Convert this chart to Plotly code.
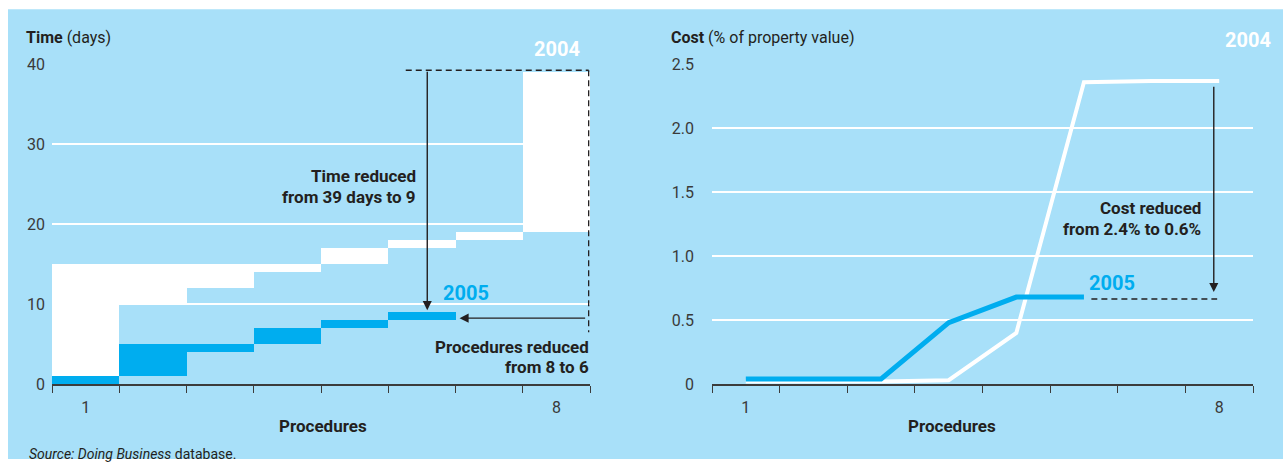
import plotly.graph_objects as go

# ---------------- data ----------------
procedures_2004 = [1, 2, 3, 4, 5, 6, 7, 8]
procedures_2005 = [1, 2, 3, 4, 5, 6]
time_2004_start = [0, 10, 12, 14, 15, 17, 18, 19]
time_2004_end = [15, 15, 15, 15, 17, 18, 19, 39]
time_2005_start = [0, 1, 4, 5, 7, 8]
time_2005_end = [1, 5, 5, 7, 8, 9]
cost_2004 = [0.02, 0.02, 0.02, 0.03, 0.40, 2.36, 2.37, 2.37]
cost_2005 = [0.04, 0.04, 0.04, 0.48, 0.68, 0.68]
time_ticks = [0, 10, 20, 30, 40]
cost_ticks = [0, 0.5, 1.0, 1.5, 2.0, 2.5]
cost_tick_text = ["0", "0.5", "1.0", "1.5", "2.0", "2.5"]
x_tick_vals = [1, 8]
x_tick_text = ["1", "8"]

W, H = 1283, 469
PANEL = "#a8e0f9"
BLUE = "#00adef"
DARK = "#231f20"
TICKC = "#3a3a3a"
FONT = "Roboto"

# the photographed page shows up slightly shifted/scaled vertically;
# map target picture pixels to page pixels
Y_OFF, Y_K = 8.7, 0.96


def px(x):
    return x / W


def py(y):
    return 1 - ((y - Y_OFF) / Y_K) / H


fig = go.Figure()

fig.add_trace(go.Bar(
    x=procedures_2004,
    y=[e - s for s, e in zip(time_2004_start, time_2004_end)],
    base=time_2004_start, width=1, marker=dict(color="white", line=dict(width=0)),
    xaxis="x", yaxis="y", showlegend=False, hoverinfo="skip"))
fig.add_trace(go.Bar(
    x=procedures_2005,
    y=[e - s for s, e in zip(time_2005_start, time_2005_end)],
    base=time_2005_start, width=1, marker=dict(color=BLUE, line=dict(width=0)),
    xaxis="x", yaxis="y", showlegend=False, hoverinfo="skip"))

fig.add_trace(go.Scatter(
    x=procedures_2004, y=cost_2004, mode="lines",
    line=dict(color="white", width=4), xaxis="x2", yaxis="y2",
    showlegend=False, hoverinfo="skip"))
fig.add_trace(go.Scatter(
    x=procedures_2005, y=cost_2005, mode="lines",
    line=dict(color=BLUE, width=5), xaxis="x2", yaxis="y2",
    showlegend=False, hoverinfo="skip"))

ydom = [py(384), py(64)]
common_x = dict(
    range=[0.5, 8.5], showgrid=False, zeroline=False, showline=True,
    linecolor="#3c3c3c", linewidth=1.5,
    tickvals=x_tick_vals, ticktext=x_tick_text, ticks="",
    tickfont=dict(family=FONT, size=16, color=TICKC),
    ticklabelstandoff=8,
    minor=dict(tick0=0.5, dtick=1, ticks="outside", ticklen=7,
               tickwidth=1.2, tickcolor="#3c3c3c", showgrid=False),
    fixedrange=True)

fig.update_layout(
    width=W, height=H, autosize=False,
    margin=dict(l=0, r=0, t=0, b=0),
    paper_bgcolor="white", plot_bgcolor=PANEL,
    barmode="overlay", bargap=0,
    xaxis=dict(domain=[px(52), px(590)], anchor="y", **common_x),
    xaxis2=dict(domain=[px(712), px(1253)], anchor="y2", **common_x),
    yaxis=dict(domain=ydom, range=[0, 40], tickvals=time_ticks,
               showgrid=True, gridcolor="white", gridwidth=1.5,
               zeroline=False, showline=False, ticks="",
               ticklabelstandoff=6,
               tickfont=dict(family=FONT, size=16, color=TICKC), fixedrange=True),
    yaxis2=dict(domain=ydom, range=[0, 2.5], tickvals=cost_ticks,
                ticktext=cost_tick_text, anchor="x2",
                showgrid=True, gridcolor="white", gridwidth=1.5,
                zeroline=False, showline=False, ticks="",
                ticklabelstandoff=17,
                tickfont=dict(family=FONT, size=16, color=TICKC), fixedrange=True),
    font=dict(family=FONT, color=DARK),
)

# background panel
fig.add_shape(type="rect", xref="paper", yref="paper",
              x0=px(8), x1=1, y0=0, y1=min(1, py(9)),
              fillcolor=PANEL, line=dict(width=0), layer="below")

# dashed lines (left)
dash = dict(color=DARK, width=1.3, dash="6px,4px")
fig.add_shape(type="line", xref="x", yref="y", x0=5.76, x1=8.48,
              y0=39.25, y1=39.25, line=dash)
fig.add_shape(type="line", xref="x", yref="y", x0=8.48, x1=8.48,
              y0=39.25, y1=6.5, line=dash)
# dashed line (right)
fig.add_shape(type="line", xref="x2", yref="y2", x0=6.11, x1=7.97,
              y0=0.665, y1=0.665, line=dash)

# arrows
arrow = dict(showarrow=True, arrowhead=2, arrowsize=1.3, arrowwidth=1.4,
             arrowcolor=DARK, text="", standoff=0)
fig.add_annotation(x=6.08, y=9.25, ax=6.08, ay=39.25, xref="x", yref="y",
                   axref="x", ayref="y", **arrow)
fig.add_annotation(x=6.56, y=8.25, ax=8.45, ay=8.25, xref="x", yref="y",
                   axref="x", ayref="y", **arrow)
fig.add_annotation(x=7.92, y=0.72, ax=7.92, ay=2.336, xref="x2", yref="y2",
                   axref="x2", ayref="y2", **arrow)


def text(t, x, y, xanchor="center", size=17, color=DARK, align="center", yanchor="middle"):
    fig.add_annotation(text=t, x=px(x), y=py(y), xref="paper", yref="paper",
                       xanchor=xanchor, yanchor=yanchor, showarrow=False,
                       align=align, font=dict(family=FONT, size=size, color=color))


text("<b>Time</b> (days)", 24, 37, xanchor="left", size=16)
text("<b>Cost</b> (% of property value)", 669, 37, xanchor="left", size=16)
text("<b>2004</b>", 557, 49, size=20, color="white")
text("<b>2004</b>", 1248, 40, size=20, color="white")
text("<b>2005</b>", 466, 293, size=20, color=BLUE)
text("<b>2005</b>", 1112, 283, size=20, color=BLUE)
text("<b>Time reduced</b>", 418, 176, xanchor="right")
text("<b>from 39 days to 9</b>", 418, 197, xanchor="right")
text("<b>Procedures reduced</b>", 591, 347, xanchor="right")
text("<b>from 8 to 6</b>", 591, 367, xanchor="right")
text("<b>Cost reduced</b>", 1203, 208, xanchor="right")
text("<b>from 2.4% to 0.6%</b>", 1203, 229, xanchor="right")
text("<b>Procedures</b>", 323, 426, size=17)
text("<b>Procedures</b>", 952, 426, size=17)
text("<i>Source: Doing Business</i> database.", 27, 454, xanchor="left", size=14)

fig.write_html(
    "out.html",
    config={"displayModeBar": False},
    post_script=("document.documentElement.style.overflow='hidden';"
                 "document.body.style.margin='0';"
                 "document.body.style.overflow='hidden';"),
)
